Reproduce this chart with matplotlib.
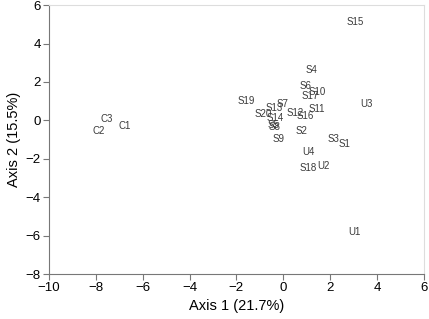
import matplotlib.pyplot as plt

plt.rcParams['font.family'] = ['Liberation Sans', 'DejaVu Sans']

labels = ["S1", "S2", "S3", "S4", "S5", "S6", "S7", "S8", "S9", "S10",
          "S11", "S12", "S13", "S14", "S15", "S16", "S17", "S18", "S19", "S20",
          "U1", "U2", "U3", "U4", "C1", "C2", "C3"]
axis1 = [2.63, 0.78, 2.16, 1.21, -0.42, 0.96, -0.05, -0.38, -0.18, 1.45,
         1.42, 0.51, -0.39, -0.36, 3.05, 0.92, 1.17, 1.06, -1.60, -0.86,
         3.05, 1.73, 3.57, 1.09, -6.75, -7.86, -7.52]
axis2 = [-1.25, -0.57, -0.96, 2.6, -0.22, 1.77, 0.83, -0.32, -0.99, 1.47,
         0.57, 0.36, 0.64, 0.12, 5.1, 0.22, 1.29, -2.46, 0.99, 0.35,
         -5.83, -2.38, 0.83, -1.65, -0.31, -0.57, 0.05]

fig = plt.figure(figsize=(4.29, 3.19), dpi=100)
ax = fig.add_axes([0.114, 0.141, 0.874, 0.843])

for lab, x, y in zip(labels, axis1, axis2):
    ax.text(x, y, lab, fontsize=7, color='#3a3a3a', ha='center', va='center')

ax.set_xlim(-10, 6)
ax.set_ylim(-8, 6)
ax.set_xticks(range(-10, 7, 2))
ax.set_yticks(range(-8, 7, 2))
ax.set_xticklabels([str(v).replace('-', '\u2212') for v in range(-10, 7, 2)])
ax.set_yticklabels([str(v).replace('-', '\u2212') for v in range(-8, 7, 2)])
ax.tick_params(direction='out', length=4, width=0.8, color='#777777', labelsize=9.5, pad=2)
for side in ['left', 'bottom']:
    ax.spines[side].set_color('#777777')
for side in ['top', 'right']:
    ax.spines[side].set_color('#dddddd')
ax.set_xlabel('Axis 1 (21.7%)', fontsize=10.5, labelpad=3)
ax.set_ylabel('Axis 2 (15.5%)', fontsize=10.5, labelpad=3)

fig.savefig('out.png', dpi=100)
